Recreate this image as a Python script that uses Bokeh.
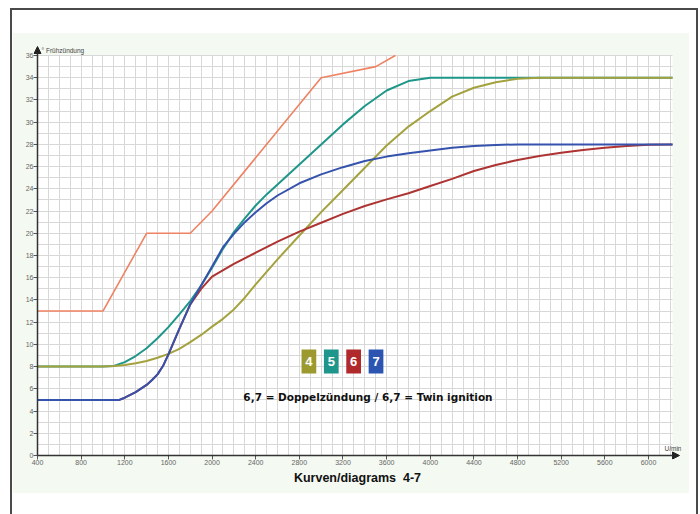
from bokeh.plotting import figure
from bokeh.models import Range1d, FixedTicker, BoxAnnotation, Label, Arrow, NormalHead
from bokeh.embed import file_html
from bokeh.resources import INLINE

# ---------------- data ----------------
x_ticks = list(range(400, 6001, 400))
y_ticks = list(range(0, 37, 2))

rpm_ref = [400, 1000, 1400, 1800, 2000, 3000, 3500, 3680]
deg_ref = [13, 13, 20, 20, 22, 34, 35, 36]

rpm_4 = [400, 1000, 1100, 1200, 1300, 1400, 1500, 1600, 1700, 1800, 1900, 2000, 2100, 2200,
         2300, 2400, 2600, 2800, 3000, 3200, 3400, 3600, 3800, 4000, 4200, 4400, 4600, 4800,
         5000, 6220]
deg_4 = [8, 8, 8.05, 8.15, 8.3, 8.5, 8.8, 9.15, 9.6, 10.2, 10.85, 11.6, 12.3, 13.15,
         14.2, 15.4, 17.65, 19.8, 21.9, 23.9, 25.9, 27.9, 29.6, 31.0, 32.3, 33.1, 33.6, 33.9,
         34, 34]

rpm_5 = [400, 1000, 1100, 1200, 1300, 1400, 1500, 1600, 1700, 1800, 1900, 2000, 2100, 2200,
         2300, 2400, 2500, 2600, 2800, 3000, 3200, 3400, 3600, 3800, 4000, 6220]
deg_5 = [8, 8, 8.05, 8.4, 8.95, 9.65, 10.55, 11.55, 12.7, 13.9, 15.3, 16.9, 18.6, 20.1,
         21.35, 22.5, 23.5, 24.4, 26.2, 28.0, 29.8, 31.45, 32.85, 33.7, 34, 34]

rpm_6 = [400, 1150, 1200, 1300, 1400, 1450, 1500, 1550, 1600, 1650, 1700, 1800, 1900, 2000,
         2200, 2400, 2600, 2800, 3000, 3200, 3400, 3600, 3800, 4000, 4200, 4400, 4600, 4800,
         5000, 5200, 5400, 5600, 5800, 6000, 6220]
deg_6 = [5, 5, 5.2, 5.7, 6.35, 6.8, 7.3, 8.05, 9.1, 10.25, 11.4, 13.6, 15.0, 16.1,
         17.25, 18.25, 19.25, 20.15, 20.95, 21.75, 22.45, 23.05, 23.6, 24.25, 24.9, 25.6, 26.15, 26.6,
         26.95, 27.25, 27.5, 27.7, 27.85, 27.97, 28]

rpm_7 = [400, 1150, 1200, 1300, 1400, 1450, 1500, 1550, 1600, 1650, 1700, 1800, 1900, 2000,
         2100, 2200, 2300, 2400, 2500, 2600, 2800, 3000, 3200, 3400, 3600, 3800, 4000, 4200,
         4400, 4600, 4800, 6220]
deg_7 = [5, 5, 5.2, 5.7, 6.35, 6.8, 7.3, 8.05, 9.1, 10.25, 11.4, 13.6, 15.3, 17.0,
         18.75, 19.95, 21.0, 21.9, 22.7, 23.4, 24.5, 25.3, 25.95, 26.5, 26.9, 27.2, 27.45, 27.7,
         27.85, 27.95, 28, 28]

legend_labels = ["4", "5", "6", "7"]
note_text = "6,7 = Doppelzündung / 6,7 = Twin ignition"
x_title = "Kurven/diagrams\u00a0 4-7"
y_title = "° Frühzündung"
x_unit = "U/min"

# ---------------- styles / layout ----------------
c_ref = "#ef8262"
c4 = "#a3a23e"
c5 = "#1f968a"
c6 = "#ad3432"
c7 = "#3553ad"
box_colors = ["#9c9a2e", "#1f968b", "#b02a2c", "#2b55b0"]

X0, X1 = 400, 6220          # grid extent (rpm)
Y0, Y1 = 0, 36              # grid extent (degrees)
KX = (X1 - X0) / 635.0      # rpm per pixel
KY = (Y1 - Y0) / 400.0      # degrees per pixel

p = figure(width=700, height=514, output_backend="svg", toolbar_location=None,
           x_range=Range1d(X0 - 4 * KX, X1 + 9 * KX),
           y_range=Range1d(Y0 - 4 * KY, Y1 + 11 * KY),
           min_border_left=33, min_border_right=19, min_border_top=44, min_border_bottom=55)
p.border_fill_alpha = 0
p.background_fill_alpha = 0
p.outline_line_color = None
p.styles = {
    "background": (
        "linear-gradient(#4a4a4a,#4a4a4a) 10px 8px / 2px 520px no-repeat, "
        "linear-gradient(#4a4a4a,#4a4a4a) 10px 8px / 688px 2px no-repeat, "
        "linear-gradient(#4a4a4a,#4a4a4a) 696px 8px / 2px 520px no-repeat, "
        "linear-gradient(#f4f9f2,#f4f9f2) 13px 33px / 676px 460px no-repeat, "
        "#ffffff"
    )
}

# white grid panel
p.add_layout(BoxAnnotation(left=X0, right=X1, top=Y1, bottom=Y0,
                           fill_color="white", fill_alpha=1, line_color=None, level="image"))

p.xgrid.ticker = FixedTicker(ticks=list(range(X0, X1 + 1, 100)))
p.ygrid.ticker = FixedTicker(ticks=list(range(Y0, Y1 + 1, 1)))
p.xgrid.cross_bounds = (Y0, Y1)
p.ygrid.cross_bounds = (X0, X1)
p.grid.grid_line_color = "#d8d8d8"
p.grid.grid_line_width = 1

p.xaxis.ticker = FixedTicker(ticks=x_ticks)
p.yaxis.ticker = FixedTicker(ticks=y_ticks)
p.xaxis.bounds = (X0, X1)
p.yaxis.bounds = (Y0, Y1)
for ax in (p.xaxis[0], p.yaxis[0]):
    ax.axis_line_color = None
    ax.major_tick_line_color = "#555555"
    ax.major_tick_line_width = 1
    ax.major_tick_out = 0
    ax.major_tick_in = 4
    ax.minor_tick_line_color = None
    ax.major_label_text_font = "Liberation Sans"
    ax.major_label_text_font_size = "7px"
    ax.major_label_text_color = "#666666"
    ax.major_label_standoff = 0
p.xaxis.axis_label = x_title
p.xaxis.axis_label_text_font = "Liberation Sans"
p.xaxis.axis_label_text_font_style = "bold"
p.xaxis.axis_label_text_font_size = "12.5px"
p.xaxis.axis_label_text_color = "#111111"
p.xaxis.axis_label_standoff = 3

# curves
p.line(rpm_ref, deg_ref, line_color=c_ref, line_width=1.6)
p.line(rpm_5, deg_5, line_color=c5, line_width=2)
p.line(rpm_4, deg_4, line_color=c4, line_width=2)
p.line(rpm_6, deg_6, line_color=c6, line_width=2)
p.line(rpm_7, deg_7, line_color=c7, line_width=2)

# axis lines with arrow heads
p.add_layout(Arrow(end=NormalHead(size=7, fill_color="#222222", line_color="#222222"),
                   x_start=X0, y_start=Y0, x_end=X0, y_end=Y1 + 9 * KY,
                   line_color="#333333", line_width=1.5))
p.add_layout(Arrow(end=NormalHead(size=7, fill_color="#222222", line_color="#222222"),
                   x_start=X0, y_start=Y0, x_end=X1 + 7 * KX, y_end=Y0,
                   line_color="#333333", line_width=1.5))

p.add_layout(Label(x=X0, y=Y1, x_offset=4, y_offset=2, text=y_title, text_font="Liberation Sans",
                   text_font_size="6.5px", text_color="#444444", text_baseline="bottom"))
p.add_layout(Label(x=X1, y=Y0, x_offset=-8, y_offset=4, text=x_unit, text_font="Liberation Sans",
                   text_font_size="6.5px", text_color="#444444", text_align="left",
                   text_baseline="bottom"))

# legend boxes
leg_left = 2820
leg_step = 205
leg_w = 135
leg_bottom, leg_top = 7.38, 9.54
for i, (lab, col) in enumerate(zip(legend_labels, box_colors)):
    l = leg_left + i * leg_step
    p.add_layout(BoxAnnotation(left=l, right=l + leg_w, bottom=leg_bottom, top=leg_top,
                               fill_color=col, fill_alpha=1, line_color=None))
    p.add_layout(Label(x=l + leg_w / 2, y=(leg_bottom + leg_top) / 2, text=lab,
                       text_font="Liberation Sans", text_font_style="bold", text_font_size="13px",
                       text_color="white", text_align="center", text_baseline="middle"))

p.add_layout(Label(x=3429, y=5.3, text=note_text, text_font="DejaVu Sans",
                   text_font_style="bold", text_font_size="10.5px", text_color="#111111",
                   text_align="center", text_baseline="middle"))

open("out.html", "w").write(file_html(p, INLINE))
